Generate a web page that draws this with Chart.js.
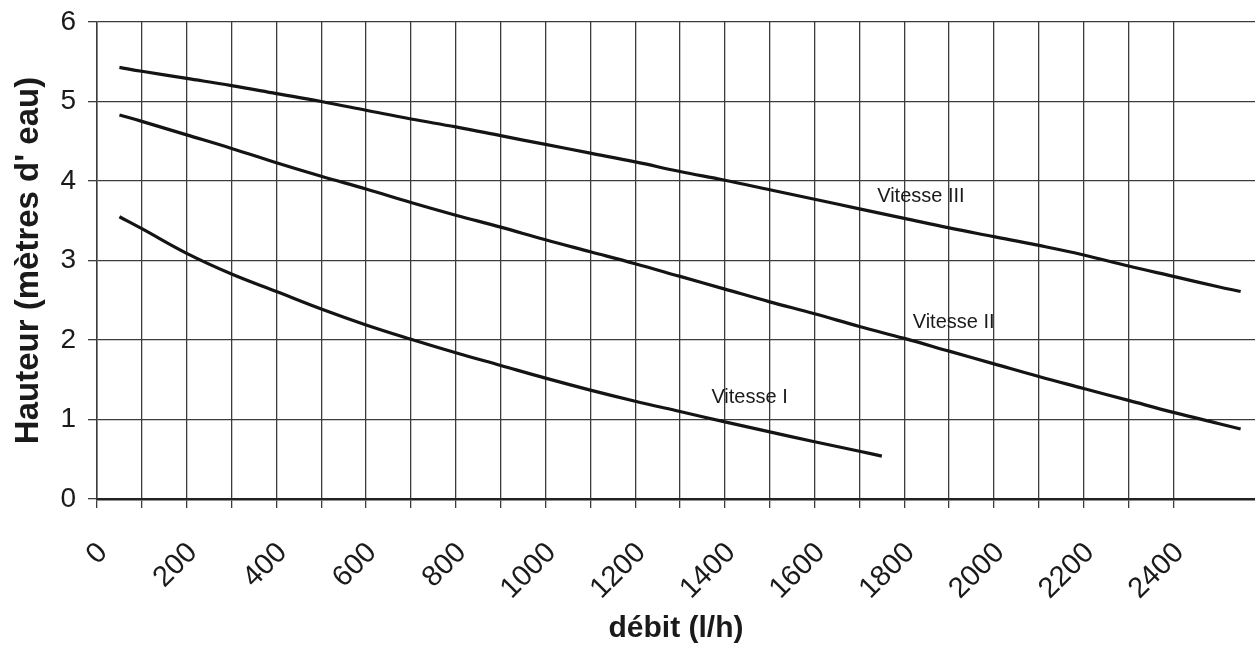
<!DOCTYPE html>
<html>
<head>
<meta charset="utf-8">
<script src="https://cdn.jsdelivr.net/npm/chart.js@4"></script>
<style>
  html, body { margin: 0; padding: 0; background: #ffffff; }
  #wrap { width: 1255px; height: 659px; }
</style>
</head>
<body>
<div id="wrap"><canvas id="c"></canvas></div>
<script>
// ---- data ----
const xVitesseI   = [50, 100, 200, 300, 400, 500, 600, 700, 800, 900, 1000, 1100, 1200, 1300, 1400, 1500, 1600, 1700, 1750];
const yVitesseI   = [3.55, 3.40, 3.09, 2.83, 2.61, 2.39, 2.19, 2.01, 1.84, 1.68, 1.52, 1.37, 1.23, 1.10, 0.97, 0.845, 0.72, 0.60, 0.54];

const xVitesseII  = [50, 100, 200, 300, 400, 500, 600, 700, 800, 900, 1000, 1100, 1200, 1300, 1400, 1500, 1600, 1700, 1800, 1900, 2000, 2100, 2200, 2300, 2400, 2500, 2550];
const yVitesseII  = [4.83, 4.75, 4.58, 4.41, 4.23, 4.06, 3.90, 3.73, 3.57, 3.42, 3.26, 3.11, 2.96, 2.80, 2.64, 2.48, 2.33, 2.17, 2.02, 1.86, 1.70, 1.54, 1.39, 1.24, 1.09, 0.95, 0.88];

const xVitesseIII = [50, 100, 200, 300, 400, 500, 600, 700, 800, 900, 1000, 1100, 1200, 1300, 1400, 1500, 1600, 1700, 1800, 1900, 2000, 2100, 2200, 2300, 2400, 2500, 2550];
const yVitesseIII = [5.43, 5.38, 5.29, 5.20, 5.10, 5.00, 4.89, 4.78, 4.68, 4.57, 4.46, 4.35, 4.24, 4.12, 4.01, 3.89, 3.77, 3.65, 3.53, 3.41, 3.30, 3.19, 3.07, 2.93, 2.80, 2.67, 2.61];

const seriesNames = ['Vitesse I', 'Vitesse II', 'Vitesse III'];
// curve label anchors (data coordinates)
const labelX = [1455, 1910, 1837];
const labelY = [1.28, 2.22, 3.81];

const xTitle = 'débit (l/h)';
const yTitle = "Hauteur (mètres d' eau)";

const xMin = 0, xMax = 2582, xStep = 100, xLabelStep = 200;
const yMin = 0, yMax = 6, yStep = 1;

// ---- build ----
function pts(xs, ys) { return xs.map((x, i) => ({ x: x, y: ys[i] })); }

const FONT = '"Liberation Sans", Arial, Helvetica, sans-serif';
const GRID = '#3c3c3c';

const curveLabels = {
  id: 'curveLabels',
  afterDatasetsDraw(chart) {
    const ctx = chart.ctx;
    const xs = chart.scales.x, ys = chart.scales.y;
    ctx.save();
    ctx.font = '20px ' + FONT;
    ctx.fillStyle = '#1a1a1a';
    ctx.textAlign = 'center';
    ctx.textBaseline = 'middle';
    seriesNames.forEach((n, i) => {
      ctx.fillText(n, xs.getPixelForValue(labelX[i]), ys.getPixelForValue(labelY[i]));
    });
    ctx.restore();
  }
};

const ds = (label, data) => ({
  label: label,
  data: data,
  borderColor: '#141414',
  borderWidth: 3.2,
  pointRadius: 0,
  fill: false,
  tension: 0.4
});

new Chart(document.getElementById('c'), {
  type: 'line',
  data: {
    datasets: [
      ds(seriesNames[0], pts(xVitesseI, yVitesseI)),
      ds(seriesNames[1], pts(xVitesseII, yVitesseII)),
      ds(seriesNames[2], pts(xVitesseIII, yVitesseIII))
    ]
  },
  options: {
    responsive: true,
    maintainAspectRatio: false,
    animation: false,
    layout: { autoPadding: false, padding: { top: 22, right: 0, bottom: 0, left: 0 } },
    plugins: { legend: { display: false }, tooltip: { enabled: false } },
    scales: {
      x: {
        type: 'linear',
        min: xMin, max: xMax,
        afterBuildTicks: (s) => { s.ticks = s.ticks.filter(t => t.value % xStep === 0); },
        afterFit: (s) => { s.height = 160; s.paddingLeft = 0; s.paddingRight = 0; },
        ticks: {
          stepSize: xStep,
          autoSkip: false,
          maxRotation: 45, minRotation: 45,
          padding: 28,
          labelOffset: 6,
          color: '#1a1a1a',
          font: { family: FONT, size: 29 },
          callback: (v) => (v % xLabelStep === 0 ? String(v) : '')
        },
        grid: { color: GRID, lineWidth: 1.3, tickLength: 9, tickColor: GRID },
        border: { color: '#222', width: 2.5 },
        title: {
          display: true, text: xTitle, color: '#1a1a1a',
          font: { family: FONT, size: 30, weight: 'bold' },
          padding: { top: 6, bottom: 12 }
        }
      },
      y: {
        type: 'linear',
        min: yMin, max: yMax,
        afterFit: (s) => { s.width = 97; s.paddingTop = 0; s.paddingBottom = 0; },
        ticks: {
          stepSize: yStep,
          padding: 12,
          color: '#1a1a1a',
          font: { family: FONT, size: 28 }
        },
        grid: { color: GRID, lineWidth: 1.3, tickLength: 9, tickColor: GRID },
        border: { color: GRID, width: 1.5 },
        title: {
          display: true, text: yTitle, color: '#1a1a1a',
          font: { family: FONT, size: 33, weight: 'bold' },
          padding: { top: 9, bottom: 6 }
        }
      }
    }
  },
  plugins: [curveLabels]
});
</script>
</body>
</html>
